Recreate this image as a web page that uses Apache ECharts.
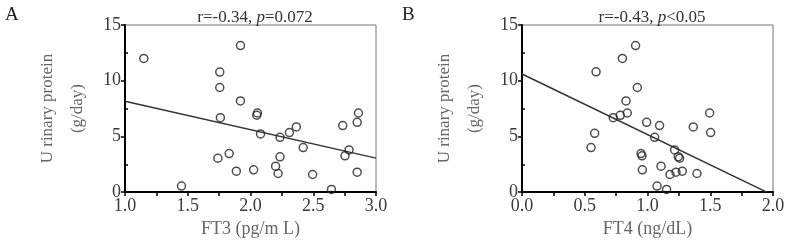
<!DOCTYPE html>
<html>
<head>
<meta charset="utf-8">
<script src="https://cdn.jsdelivr.net/npm/echarts@6/dist/echarts.min.js"></script>
<style>
html, body { margin: 0; padding: 0; background: #fff; }
#chart { width: 789px; height: 243px; }
</style>
</head>
<body>
<div id="chart"></div>
<script>
// panel A: FT3 vs urinary protein
var ft3 = [1.15, 1.45, 1.92, 1.755, 1.755, 1.92, 1.76, 2.055, 2.05, 2.08, 2.235, 2.31, 2.365, 2.42, 2.235,
	2.2, 2.22, 2.495, 2.645, 1.74, 1.83, 1.887, 2.025, 2.735, 2.753, 2.785, 2.85, 2.86, 2.85];
var proteinA = [12.0, 0.54, 13.15, 10.77, 9.39, 8.18, 6.68, 7.1, 6.9, 5.22, 4.92, 5.34, 5.85, 4.0, 3.17,
	2.33, 1.67, 1.58, 0.24, 3.04, 3.46, 1.88, 2.0, 5.97, 3.26, 3.79, 6.26, 7.1, 1.79];
// panel B: FT4 vs urinary protein
var ft4 = [0.55, 0.579, 0.59, 0.727, 0.783, 0.839, 0.829, 0.80, 0.905, 0.919, 0.993, 1.096, 1.057, 0.948, 0.956,
	0.959, 1.108, 1.076, 1.152, 1.179, 1.227, 1.277, 1.216, 1.245, 1.256, 1.365, 1.394, 1.495, 1.503];
var proteinB = [4.0, 5.28, 10.8, 6.68, 6.89, 7.1, 8.18, 12.0, 13.15, 9.39, 6.26, 5.97, 4.92, 3.46, 3.26,
	2.0, 2.33, 0.54, 0.24, 1.58, 1.79, 1.88, 3.79, 3.17, 3.04, 5.85, 1.67, 7.1, 5.34];
// fitted lines (end points)
var fitAx = [1.0, 3.0], fitAy = [8.15, 3.05];
var fitBx = [0.0, 1.95], fitBy = [10.6, 0.0];
// ticks
var xLabelsA = [1.0, 1.5, 2.0, 2.5, 3.0];
var xLabelsB = [0.0, 0.5, 1.0, 1.5, 2.0];
var yMinor = [2.5, 7.5, 12.5];
var titles = ['r=-0.34, ', 'r=-0.43, '];
var pTexts = ['=0.072', '<0.05'];
var xNames = ['FT3 (pg/m L)', 'FT4 (ng/dL)'];
var yName = 'U rinary protein\n(g/day)';

var FONT = 'Liberation Serif';

function pairs(xs, ys) {
	var ret = [];
	for (var i = 0; i < xs.length; i++) {
		ret.push([xs[i], ys[i]]);
	}
	return ret;
}

function xAxisOf(idx, min, max, labels) {
	return {
		gridIndex: idx,
		type: 'value',
		min: min,
		max: max,
		interval: 0.25,
		name: xNames[idx],
		nameLocation: 'middle',
		nameGap: 27,
		nameTextStyle: { fontFamily: FONT, fontSize: 18, color: '#666' },
		axisLine: { show: true, onZero: false, lineStyle: { color: '#000', width: 2 } },
		axisTick: { show: true, length: 4, lineStyle: { color: '#000', width: 1.5 } },
		axisLabel: {
			customValues: labels,
			margin: 5,
			fontFamily: FONT, fontSize: 18, color: '#3a3a3a',
			formatter: function(v) { return v.toFixed(1); }
		},
		splitLine: { show: false }
	};
}

function yAxisOf(idx) {
	return {
		gridIndex: idx,
		type: 'value',
		min: 0,
		max: 15,
		interval: 5,
		name: yName,
		nameLocation: 'middle',
		nameRotate: 90,
		nameGap: 32,
		nameTextStyle: { fontFamily: FONT, fontSize: 17, color: '#666', lineHeight: 30 },
		axisLine: { show: true, onZero: false, lineStyle: { color: '#000', width: 2 } },
		axisTick: { show: true, length: 4, lineStyle: { color: '#000', width: 1.5 } },
		axisLabel: { margin: 4, fontFamily: FONT, fontSize: 18, color: '#3a3a3a' },
		splitLine: { show: false }
	};
}

function minorAxisOf(idx) { //只画向内的小刻度
	return {
		gridIndex: idx,
		type: 'value',
		min: 0,
		max: 15,
		position: 'left',
		axisLine: { show: false },
		axisTick: { show: true, inside: true, length: 3, customValues: yMinor, lineStyle: { color: '#000', width: 1.5 } },
		axisLabel: { show: false },
		splitLine: { show: false }
	};
}

var myChart = echarts.init(document.getElementById('chart'), null, { renderer: 'canvas' });
var option = {
	animation: false,
	backgroundColor: '#fff',
	title: [0, 1].map(function(i) {
		return {
			text: '{n|' + titles[i] + '}{p|p}{n|' + pTexts[i] + '}',
			left: i == 0 ? 250 : 647,
			textAlign: 'center',
			top: 4,
			textStyle: {
				fontWeight: 'normal',
				rich: {
					n: { fontFamily: FONT, fontSize: 17, color: '#333', fontWeight: 'normal' },
					p: { fontFamily: FONT, fontSize: 17, color: '#333', fontWeight: 'normal', fontStyle: 'italic' }
				}
			}
		};
	}),
	graphic: [
		{ type: 'text', left: 5, top: 6, style: { text: 'A', fontFamily: FONT, fontSize: 19, fill: '#222' } },
		{ type: 'text', left: 402, top: 6, style: { text: 'B', fontFamily: FONT, fontSize: 19, fill: '#222' } }
	],
	grid: [
		{ left: 125, right: 413, top: 25, bottom: 50, show: true, borderColor: '#777', borderWidth: 1 },
		{ left: 522, right: 16, top: 25, bottom: 50, show: true, borderColor: '#777', borderWidth: 1 }
	],
	xAxis: [xAxisOf(0, 1, 3, xLabelsA), xAxisOf(1, 0, 2, xLabelsB)],
	yAxis: [yAxisOf(0), yAxisOf(1), minorAxisOf(0), minorAxisOf(1)],
	series: [{
			type: 'line', xAxisIndex: 0, yAxisIndex: 0, data: pairs(fitAx, fitAy),
			symbol: 'none', lineStyle: { color: '#333', width: 1.5 }, z: 2
		},
		{
			type: 'line', xAxisIndex: 1, yAxisIndex: 1, data: pairs(fitBx, fitBy),
			symbol: 'none', lineStyle: { color: '#333', width: 1.5 }, z: 2
		},
		{
			type: 'scatter', xAxisIndex: 0, yAxisIndex: 0, data: pairs(ft3, proteinA),
			symbol: 'circle', symbolSize: 8,
			itemStyle: { color: 'rgba(255,255,255,0)', borderColor: '#222', borderWidth: 1.5 }, z: 3
		},
		{
			type: 'scatter', xAxisIndex: 1, yAxisIndex: 1, data: pairs(ft4, proteinB),
			symbol: 'circle', symbolSize: 8,
			itemStyle: { color: 'rgba(255,255,255,0)', borderColor: '#222', borderWidth: 1.5 }, z: 3
		}
	]
};
myChart.setOption(option);
</script>
</body>
</html>
